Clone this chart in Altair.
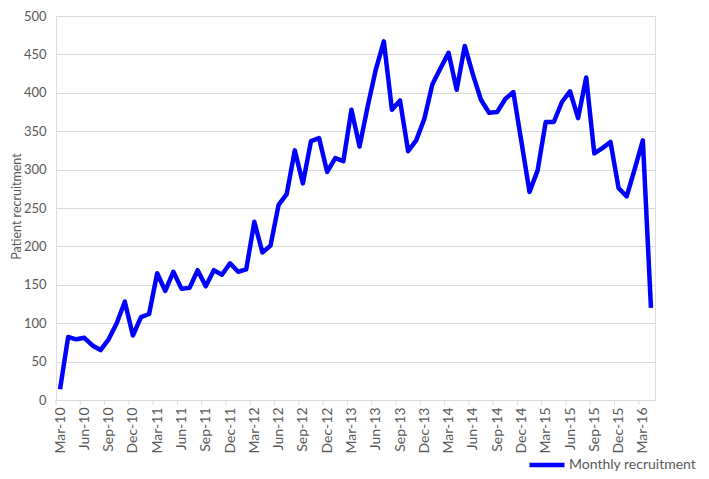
import json
import altair as alt
import pandas as pd

# Month categories (Mar-10 .. Apr-16)
months = list(pd.date_range("2010-03-01", periods=74, freq="MS").strftime("%b-%y"))
tick_labels = months[::3]  # Mar-10, Jun-10, ..., Mar-16

series_name = "Monthly recruitment"
recruitment = [
    14, 82, 79, 81, 71, 65, 79, 100, 128, 84,              # Mar-10 .. Dec-10
    108, 112, 165, 142, 167, 145, 146, 169, 148, 169, 163, 178,  # 2011
    167, 170, 232, 192, 201, 254, 268, 325, 282, 337, 341, 297,  # 2012
    315, 311, 378, 330, 382, 430, 467, 378, 390, 324, 338, 366,  # 2013
    411, 432, 452, 404, 461, 424, 391, 374, 375, 392, 401, 336,  # 2014
    271, 299, 362, 362, 388, 402, 367, 420, 321, 328, 336, 276,  # 2015
    265, 301, 338, 120,                                          # Jan-16 .. Apr-16
]
y_ticks = [0, 50, 100, 150, 200, 250, 300, 350, 400, 450, 500]

df = pd.DataFrame({
    "idx": list(range(len(months))),
    "month": months,
    "value": recruitment,
    "series": [series_name] * len(months),
})
# category boundaries carrying the tick marks (every third category)
ticks_df = pd.DataFrame({"idx": [i - 0.5 for i in range(0, len(months), 3)]})

FONT = "Lato"
TXT = "#595959"
GRID = "#d9d9d9"
FS = 14
W, H = 599, 384

label_expr = json.dumps(tick_labels) + "[round(datum.value / 3)]"

xscale = alt.Scale(domain=[-0.5, len(months) - 0.5], nice=False, zero=False)
x_axis = alt.Axis(values=list(range(0, len(months), 3)), labelExpr=label_expr,
                  labelAngle=-90, ticks=False, grid=False, domain=True,
                  domainColor=GRID, domainWidth=1, labelPadding=7,
                  labelFontSize=FS, labelColor=TXT, labelFont=FONT,
                  labelOverlap=False, labelSeparation=0, labelFlush=False,
                  labelBound=False, title=None)

line = alt.Chart(df).mark_line(strokeWidth=4.5, strokeJoin="round").encode(
    x=alt.X("idx:Q", scale=xscale, axis=x_axis),
    y=alt.Y("value:Q", scale=alt.Scale(domain=[0, 500], nice=False),
            axis=alt.Axis(values=y_ticks, grid=True, gridColor=GRID, gridWidth=1,
                          ticks=False, domain=False, labelPadding=10,
                          labelFontSize=13, labelColor=TXT, labelFont=FONT,
                          title="Patient recruitment", titleFont=FONT,
                          titleFontSize=12.5, titleColor=TXT, titleFontWeight="normal",
                          titleX=-36, titleY=H / 2 - 2, titleAngle=-90,
                          titleAlign="center", titleBaseline="alphabetic")),
    color=alt.Color("series:N",
                    scale=alt.Scale(domain=[series_name], range=["#0000ff"]),
                    legend=alt.Legend(orient="none", legendX=471, legendY=H + 45,
                                      title=None, symbolType="stroke",
                                      symbolSize=1225, symbolStrokeWidth=4.5,
                                      symbolStrokeColor="#0000ff",
                                      labelFontSize=FS, labelFont=FONT,
                                      labelColor=TXT, labelOffset=2, padding=0)),
)

tick_marks = alt.Chart(ticks_df).mark_rule(color=GRID, strokeWidth=1).encode(
    x=alt.X("idx:Q", scale=xscale, axis=x_axis),
    y=alt.value(H),
    y2=alt.value(H + 5),
)

chart = alt.layer(line, tick_marks).properties(
    width=W, height=H,
    autosize=alt.AutoSizeParams(type="none"),
    padding={"left": 48, "top": 8, "right": 46, "bottom": 71},
).configure_view(stroke=None).configure(background="white")

chart.save("out.html", embed_options={"renderer": "svg", "actions": False})
